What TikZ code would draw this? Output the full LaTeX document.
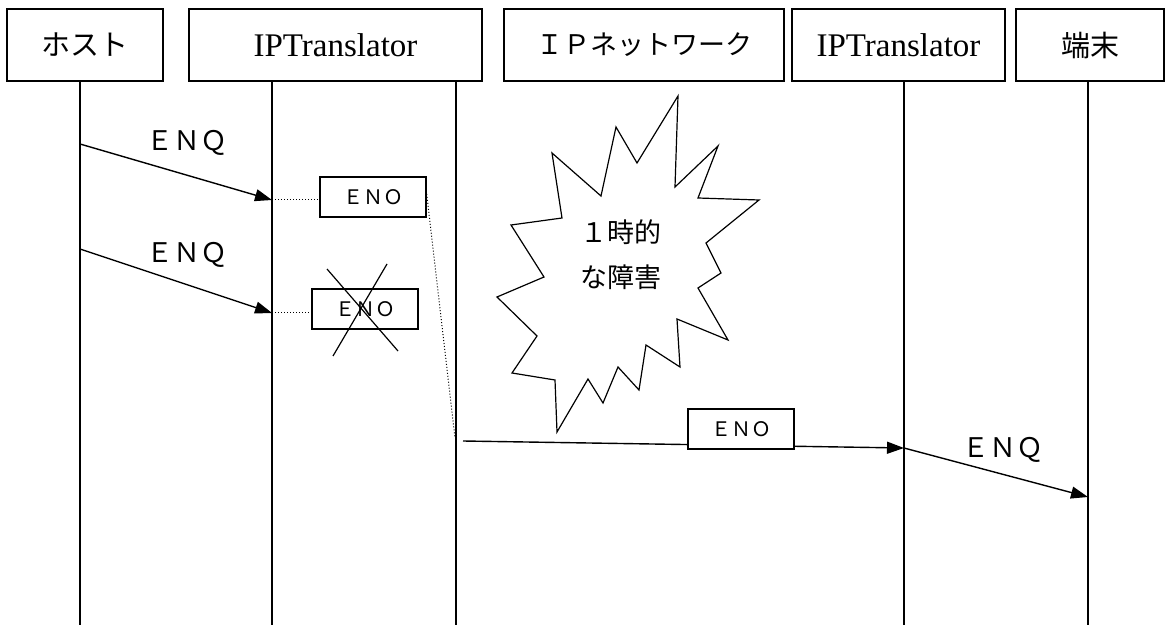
\documentclass[tikz,border=0pt]{standalone}
\usepackage{fontspec}
\setmainfont{Liberation Serif}
\newfontfamily\jpfont{Noto Sans CJK JP}
\usetikzlibrary{arrows.meta}

\begin{document}
\begin{tikzpicture}[x=1pt,y=-1pt,
    head/.style={draw, line width=1.4pt, minimum height=72pt, inner sep=0pt},
    life/.style={line width=1.4pt},
    msg/.style={line width=1.4pt, -{Triangle[length=17pt,width=12pt]}},
    tag/.style={font=\jpfont\fontsize{27}{27}\selectfont},
    pkt/.style={draw, fill=white, line width=1.4pt, minimum width=106pt, minimum height=40pt, inner sep=0pt, font=\jpfont\fontsize{20}{20}\selectfont}]
  \useasboundingbox (0,0) rectangle (1168,628);

  % Draw the header boxes
  \node[head, minimum width=156pt, font=\jpfont\fontsize{29}{29}\selectfont] (host) at (85,45) {ホスト};
  \node[head, minimum width=293pt, font=\fontsize{33}{33}\selectfont] (ipt1) at (335.5,45) {IPTranslator};
  \node[head, minimum width=280pt, font=\jpfont\fontsize{27}{27}\selectfont] (net) at (644,45) {ＩＰネットワーク};
  \node[head, minimum width=213pt, font=\fontsize{33}{33}\selectfont] (ipt2) at (898.5,45) {IPTranslator};
  \node[head, minimum width=148pt, font=\jpfont\fontsize{29}{29}\selectfont] (term) at (1090,45) {端末};

  % Draw the lifelines
  \coordinate (L1) at (80,625);
  \coordinate (L2) at (272,625);
  \coordinate (L3) at (456,625);
  \coordinate (L4) at (904,625);
  \coordinate (L5) at (1088,625);
  \draw[life] (host.south -| L1) -- (L1);
  \draw[life] (ipt1.south -| L2) -- (L2);
  \draw[life] (ipt1.south -| L3) -- (L3);
  \draw[life] (ipt2.south -| L4) -- (L4);
  \draw[life] (term.south -| L5) -- (L5);

  % First ENQ, kept in the translator
  \coordinate (q1s) at (80,144);
  \coordinate (q1e) at (272,200);
  \draw[msg] (q1s) -- (q1e);
  \node[tag] (enq1) at (187,143) {ＥＮＱ};
  \node[pkt] (eno1) at (373,197) {ＥＮＯ};
  \draw[dotted, line width=1pt] (q1e) -- (q1e -| eno1.west);

  % Second ENQ, thrown away
  \coordinate (q2s) at (80,249);
  \coordinate (q2e) at (272,313);
  \draw[msg] (q2s) -- (q2e);
  \node[tag] (enq2) at (187,255) {ＥＮＱ};
  \node[pkt] (eno2) at (365,309) {ＥＮＯ};
  \draw[dotted, line width=1pt] (q2e) -- (q2e -| eno2.west);
  \draw[line width=1.2pt] (327,269) -- (398,351);
  \draw[line width=1.2pt] (387,264) -- (333,356);

  % Draw the fault burst
  \draw[line width=1.2pt, line join=miter]
    (678,96) -- (675,187) -- (718,146) -- (698,198) -- (759,200) -- (706,243)
    -- (721,273) -- (698,288) -- (728,340) -- (677,319) -- (680,367) -- (646,345)
    -- (639,390) -- (618,367) -- (603,403) -- (588,379) -- (557,432) -- (555,380)
    -- (512,373) -- (537,336) -- (497,297) -- (544,277) -- (511,225) -- (562,218)
    -- (552,153) -- (601,196) -- (616,127) -- (637,163) -- cycle;
  \node[align=center, font=\jpfont\fontsize{27}{45}\selectfont] (fault) at (621,255) {１時的\\な障害};

  % Resend after the fault
  \coordinate (r1) at (455,438);
  \draw[dotted, line width=1pt] ([yshift=3pt]eno1.east) -- (r1);
  \coordinate (q3s) at (463,441);
  \coordinate (q3e) at (904,448);
  \draw[msg] (q3s) -- (q3e);
  \node[pkt] (eno3) at (741,429) {ＥＮＯ};

  % ENQ to the terminal
  \coordinate (q4e) at (1088,497);
  \draw[msg] (q3e) -- (q4e);
  \node[tag] (enq4) at (1003,450) {ＥＮＱ};
\end{tikzpicture}
\end{document}
